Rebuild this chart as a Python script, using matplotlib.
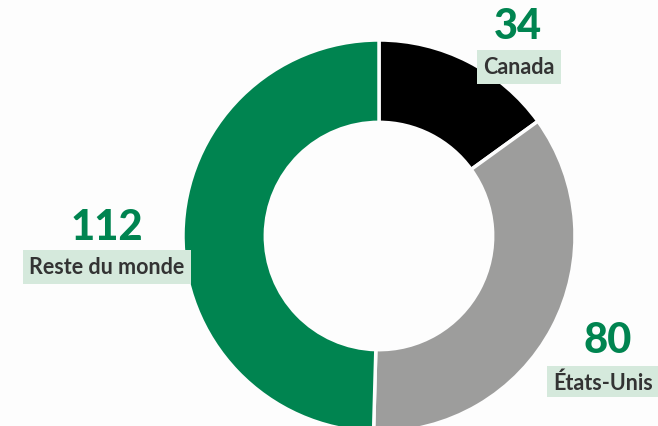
import matplotlib.pyplot as plt
from matplotlib.patches import Rectangle

# data
labels = ['Canada', 'États-Unis', 'Reste du monde']
values = [34, 80, 112]
colors = ['#000000', '#9d9d9c', '#008450']

W, H = 658, 427
fig = plt.figure(figsize=(W / 100, H / 100), dpi=100)
fig.patch.set_facecolor('#fdfdfd')

# donut: center (379, 237) px from top-left, radius 196 px
cx, cy, r = 379, 237, 196
ax = fig.add_axes([(cx - r) / W, (H - cy - r) / H, 2 * r / W, 2 * r / H])
ax.pie(values, colors=colors, startangle=90, counterclock=False, radius=1,
       wedgeprops=dict(width=0.42, edgecolor='#fdfdfd', linewidth=2.5))
ax.set_xlim(-1, 1)
ax.set_ylim(-1, 1)
ax.set_aspect('equal')
ax.axis('off')


def px(x, y):
    return x / W, 1 - y / H


num_kw = dict(family=['Lato', 'DejaVu Sans'], fontweight='black', fontsize=30,
              color='#008450', va='center')
lab_kw = dict(family=['Lato', 'DejaVu Sans'], fontweight='bold', fontsize=15.5,
              color='#333333', va='center')
box = dict(boxstyle='square,pad=0.3', facecolor='#d5e9dc', edgecolor='none')

# Canada
fig.text(*px(518, 27), str(values[0]), ha='center', **num_kw)
fig.text(*px(519, 68), labels[0], ha='center', bbox=box, **lab_kw)
# États-Unis (box runs off the right edge)
fig.text(*px(608, 341), str(values[1]), ha='center', **num_kw)
fig.patches.append(Rectangle((547 / W, 1 - 398 / H), (W - 547) / W, 31 / H,
                             transform=fig.transFigure, facecolor='#d5e9dc',
                             edgecolor='none'))
fig.text(*px(553, 383), labels[1], ha='left', **lab_kw)
# Reste du monde
fig.text(*px(107, 228), str(values[2]), ha='center', **num_kw)
fig.text(*px(107, 268), labels[2], ha='center', bbox=box, **lab_kw)

fig.savefig('out.png', dpi=100, facecolor=fig.get_facecolor())
